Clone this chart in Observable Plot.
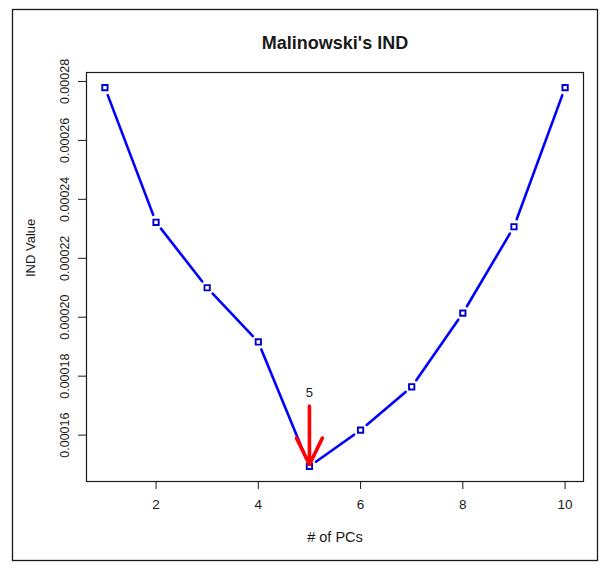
<!DOCTYPE html>
<html><head><meta charset="utf-8">
<script src="https://cdn.jsdelivr.net/npm/d3@7"></script>
<script src="https://cdn.jsdelivr.net/npm/@observablehq/plot@0.6"></script>
<style>body{margin:0;background:#fff;}</style>
</head><body><div id="chart"></div>
<script>
const pcs = [1, 2, 3, 4, 5, 6, 7, 8, 9, 10];
const indValues = [0.0002779, 0.0002322, 0.0002100, 0.0001916, 0.0001494, 0.0001617, 0.0001764, 0.0002014, 0.0002307, 0.0002779];
const xTicks = [2, 4, 6, 8, 10];
const yTicks = [0.00016, 0.00018, 0.00020, 0.00022, 0.00024, 0.00026, 0.00028];
const minPC = [5];
const arrowTop = [0.00017];
const arrowTip = [0.00015];
const arrowLabel = ["5"];
const titleText = "Malinowski's IND";
const xLabel = "# of PCs";
const yLabel = "IND Value";

const rows = pcs.map((p, i) => ({pc: p, v: indValues[i]}));
const segs = pcs.slice(0, -1).map((p, i) => ({x1: p, y1: indValues[i], x2: pcs[i + 1], y2: indValues[i + 1]}));
const arrowData = minPC.map((p, i) => ({x: p, top: arrowTop[i], tip: arrowTip[i], label: arrowLabel[i]}));

// R-style 4% padding of the axis ranges
const pad = (lo, hi) => { const d = (hi - lo) * 0.04; return [lo - d, hi + d]; };
const xDom = pad(d3.min(pcs), d3.max(pcs));
const yDom = pad(d3.min(indValues), d3.max(indValues));

const font = "'Liberation Sans', Arial, sans-serif";
const ink = "#1a1a1a";

const chart = Plot.plot({
  width: 605,
  height: 569,
  marginLeft: 86,
  marginRight: 22,
  marginTop: 72,
  marginBottom: 88,
  style: {fontFamily: font, fontSize: "12px", color: ink, background: "#fff"},
  x: {domain: xDom},
  y: {domain: yDom},
  marks: [
    Plot.frame({stroke: ink, strokeWidth: 1.2}),
    Plot.axisX({ticks: xTicks, tickSize: 8, tickPadding: 10, fontSize: 13.5, label: null, stroke: ink}),
    Plot.axisY({ticks: yTicks, tickSize: 8, tickPadding: 10, tickRotate: -90, fontSize: 12.5,
      tickFormat: d => d.toFixed(5), label: null, stroke: ink}),
    Plot.text([titleText], {frameAnchor: "top", dy: -29, fontWeight: "bold", fontSize: 18, lineAnchor: "middle", fill: ink}),
    Plot.text([xLabel], {frameAnchor: "bottom", dy: 56, fontSize: 14.5, lineAnchor: "middle", fill: ink}),
    Plot.text([yLabel], {frameAnchor: "left", dx: -56, rotate: -90, fontSize: 13, lineAnchor: "middle", fill: ink}),
    Plot.arrow(segs, {x1: "x1", y1: "y1", x2: "x2", y2: "y2", headLength: 0, insetStart: 8, insetEnd: 8,
      stroke: "#0000ff", strokeWidth: 2.6}),
    Plot.dot(rows, {x: "pc", y: "v", symbol: "square", r: 3, stroke: "#0000cc", fill: "white", strokeWidth: 1.9}),
    // arrow: start extended so the head is not capped, then inset back to the visible start
    Plot.arrow(arrowData, {x1: "x", x2: "x", y1: d => d.tip + (d.top - d.tip) * 1.5, y2: "tip",
      insetStart: 30, headLength: 13.5, headAngle: 52, stroke: "#ff0000", strokeWidth: 3.6}),
    Plot.text(arrowData, {x: "x", y: "top", text: "label", dy: -13, fontSize: 13, fill: ink})
  ]
});

const svg = d3.select(chart);
svg.append("rect").attr("x", 12.5).attr("y", 9.5).attr("width", 585).attr("height", 551)
  .attr("fill", "none").attr("stroke", ink).attr("stroke-width", 1.3);
document.getElementById("chart").appendChild(chart);
</script>
</body></html>
